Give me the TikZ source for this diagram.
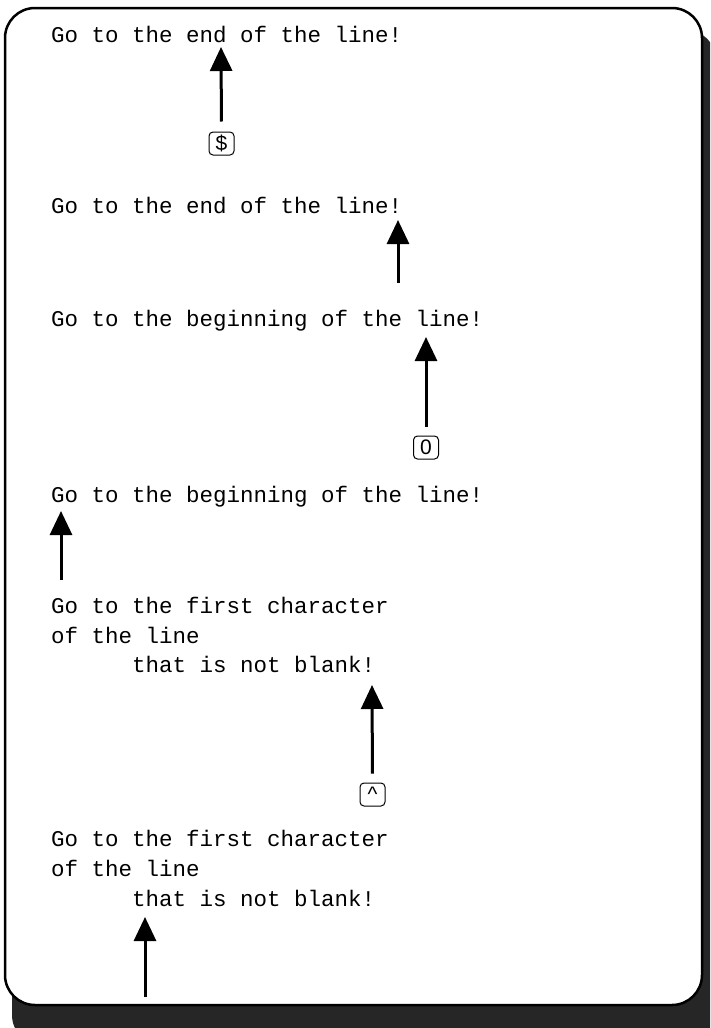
\documentclass[tikz,border=0pt]{standalone}
\usepackage{fontspec}
\setmainfont{Liberation Serif}
\setsansfont{Liberation Sans}
\setmonofont{Liberation Mono}
\usepackage{tikz}
\usetikzlibrary{arrows.meta}

\begin{document}
\begin{tikzpicture}[x=1pt,y=-1pt,
    txt/.style={anchor=base west, inner sep=0pt, font=\fontsize{22.5}{30}\selectfont\ttfamily},
    keybox/.style={draw, line width=1pt, rounded corners=4pt, minimum width=25pt, minimum height=23pt,
      inner sep=0pt, font=\fontsize{21}{21}\selectfont\sffamily},
    pointer/.style={line width=3pt, -{Triangle[width=22pt,length=24pt]}}]

  \useasboundingbox (0,0) rectangle (710,1028);
  \clip (0,0) rectangle (710,1028);

  % frame with shadow
  \fill[black!85, rounded corners=30pt] (12,30) rectangle (716,1045);
  \draw[line width=2.5pt, fill=white, rounded corners=30pt] (5,8) rectangle (702,1005);

  % $ : end of the line
  \node[txt] (t1) at (51,42) {Go to the end of the line!};
  \node[keybox] (k1) at (221.5,143.5) {\$};
  \coordinate (p1) at (221,47);
  \draw[pointer, shorten <=10pt] (k1.north) -- (p1);

  \node[txt] (t2) at (51,213) {Go to the end of the line!};
  \coordinate (p2) at (398,220);
  \coordinate (q2) at (398,283);
  \draw[pointer] (q2) -- (p2);

  % 0 : beginning of the line
  \node[txt] (t3) at (51,326) {Go to the beginning of the line!};
  \node[keybox] (k3) at (426,447.5) {0};
  \coordinate (p3) at (426,337);
  \draw[pointer, shorten <=9pt] (k3.north) -- (p3);

  \node[txt] (t4) at (51,502) {Go to the beginning of the line!};
  \coordinate (p4) at (61,511);
  \coordinate (q4) at (61,580);
  \draw[pointer] (q4) -- (p4);

  % ^ : first non-blank character
  \node[txt] (t5a) at (51,613) {Go to the first character};
  \node[txt] (t5b) at (51,643) {of the line};
  \node[txt] (t5c) at (132,672) {that is not blank!};
  \node[keybox] (k5) at (372.5,794.5) {\textasciicircum};
  \coordinate (p5) at (372,685);
  \draw[pointer, shorten <=9pt] (k5.north) -- (p5);

  \node[txt] (t6a) at (51,846) {Go to the first character};
  \node[txt] (t6b) at (51,876) {of the line};
  \node[txt] (t6c) at (132,906) {that is not blank!};
  \coordinate (p6) at (145,917);
  \coordinate (q6) at (145,997);
  \draw[pointer] (q6) -- (p6);

\end{tikzpicture}
\end{document}
